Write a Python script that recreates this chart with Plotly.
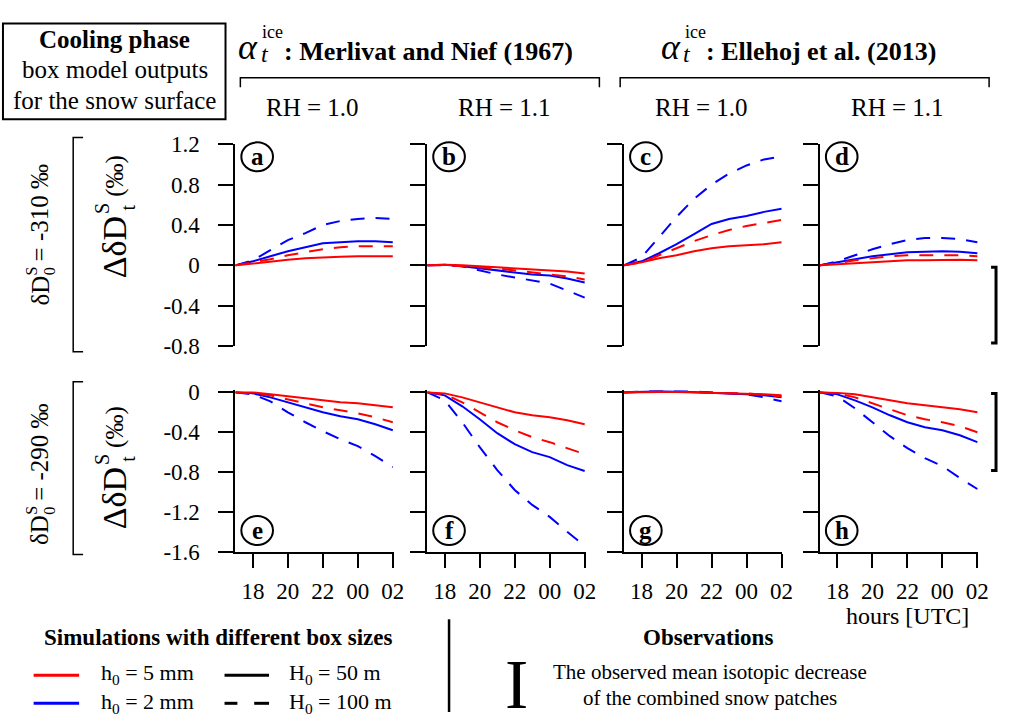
import plotly.graph_objects as go

W, H = 1009, 725
FONT = "Liberation Serif"

# ---------------- data ----------------
hours = [17, 18, 19, 20, 21, 22, 23, 24, 25, 26]
hour_ticks = [18, 20, 22, 24, 26]
hour_labels = ["18", "20", "22", "00", "02"]
top_ticks = [-0.8, -0.4, 0, 0.4, 0.8, 1.2]
top_labels = ["-0.8", "-0.4", "0", "0.4", "0.8", "1.2"]
bot_ticks = [-1.6, -1.2, -0.8, -0.4, 0]
bot_labels = ["-1.6", "-1.2", "-0.8", "-0.4", "0"]

# (a) Merlivat & Nief, RH=1.0, dD0=-310
a_h5_H50 = [0, 0.02, 0.04, 0.055, 0.07, 0.08, 0.085, 0.09, 0.09, 0.09]
a_h5_H100 = [0, 0.03, 0.06, 0.10, 0.13, 0.16, 0.18, 0.19, 0.19, 0.19]
a_h2_H50 = [0, 0.04, 0.09, 0.14, 0.18, 0.22, 0.23, 0.24, 0.24, 0.23]
a_h2_H100 = [0, 0.05, 0.15, 0.25, 0.32, 0.40, 0.44, 0.46, 0.47, 0.46]
# (b) Merlivat & Nief, RH=1.1, dD0=-310
b_h5_H50 = [0, 0.005, 0.0, -0.01, -0.02, -0.03, -0.04, -0.05, -0.06, -0.08]
b_h5_H100 = [0, 0.0, -0.01, -0.02, -0.03, -0.05, -0.07, -0.09, -0.11, -0.14]
b_h2_H50 = [0, 0.005, -0.01, -0.03, -0.05, -0.07, -0.09, -0.10, -0.13, -0.17]
b_h2_H100 = [0, 0.005, -0.01, -0.05, -0.09, -0.12, -0.15, -0.18, -0.25, -0.32]
# (c) Ellehoj, RH=1.0, dD0=-310
c_h5_H50 = [0, 0.03, 0.07, 0.10, 0.14, 0.17, 0.19, 0.20, 0.21, 0.23]
c_h5_H100 = [0, 0.03, 0.10, 0.17, 0.24, 0.30, 0.35, 0.39, 0.42, 0.45]
c_h2_H50 = [0, 0.04, 0.12, 0.21, 0.31, 0.41, 0.46, 0.49, 0.53, 0.56]
c_h2_H100 = [0, 0.08, 0.28, 0.48, 0.66, 0.80, 0.91, 0.99, 1.05, 1.08]
# (d) Ellehoj, RH=1.1, dD0=-310
d_h5_H50 = [0, 0.01, 0.025, 0.035, 0.045, 0.05, 0.05, 0.055, 0.055, 0.05]
d_h5_H100 = [0, 0.02, 0.05, 0.07, 0.09, 0.10, 0.10, 0.10, 0.10, 0.09]
d_h2_H50 = [0, 0.03, 0.06, 0.09, 0.11, 0.13, 0.135, 0.14, 0.135, 0.12]
d_h2_H100 = [0, 0.04, 0.10, 0.16, 0.21, 0.25, 0.27, 0.27, 0.26, 0.23]
# (e) Merlivat & Nief, RH=1.0, dD0=-290
e_h5_H50 = [0, 0.0, -0.02, -0.04, -0.06, -0.08, -0.10, -0.11, -0.13, -0.15]
e_h5_H100 = [0, -0.01, -0.03, -0.07, -0.11, -0.15, -0.18, -0.21, -0.25, -0.30]
e_h2_H50 = [0, -0.01, -0.05, -0.10, -0.15, -0.20, -0.24, -0.27, -0.32, -0.38]
e_h2_H100 = [0, -0.02, -0.09, -0.20, -0.30, -0.39, -0.47, -0.54, -0.64, -0.75]
# (f) Merlivat & Nief, RH=1.1, dD0=-290
f_h5_H50 = [0, -0.01, -0.05, -0.10, -0.15, -0.20, -0.23, -0.25, -0.28, -0.32]
f_h5_H100 = [0, -0.02, -0.10, -0.20, -0.30, -0.38, -0.45, -0.50, -0.56, -0.62]
f_h2_H50 = [0, -0.03, -0.14, -0.27, -0.41, -0.52, -0.60, -0.65, -0.73, -0.79]
f_h2_H100 = [0, -0.08, -0.30, -0.55, -0.78, -0.98, -1.13, -1.25, -1.40, -1.54]
# (g) Ellehoj, RH=1.0, dD0=-290
g_h5_H50 = [0, 0.005, 0.005, 0.005, 0.0, 0.0, -0.005, -0.01, -0.02, -0.03]
g_h5_H100 = [0, 0.005, 0.01, 0.005, 0.0, 0.0, -0.005, -0.01, -0.025, -0.04]
g_h2_H50 = [0, 0.01, 0.015, 0.01, 0.005, 0.0, -0.01, -0.02, -0.03, -0.05]
g_h2_H100 = [0, 0.01, 0.02, 0.02, 0.01, 0.0, -0.01, -0.02, -0.05, -0.09]
# (h) Ellehoj, RH=1.1, dD0=-290
h_h5_H50 = [0, -0.005, -0.02, -0.05, -0.08, -0.11, -0.13, -0.15, -0.17, -0.20]
h_h5_H100 = [0, -0.01, -0.05, -0.11, -0.17, -0.23, -0.27, -0.30, -0.34, -0.40]
h_h2_H50 = [0, -0.02, -0.08, -0.15, -0.23, -0.30, -0.35, -0.38, -0.43, -0.50]
h_h2_H100 = [0, -0.04, -0.16, -0.30, -0.44, -0.56, -0.66, -0.74, -0.86, -0.97]

# observed mean isotopic decrease (bracket extent)
obs_d = [-0.02, -0.77]
obs_h = [-0.01, -0.785]

panel_letters = ["a", "b", "c", "d", "e", "f", "g", "h"]
panels = [
    (a_h5_H50, a_h5_H100, a_h2_H50, a_h2_H100),
    (b_h5_H50, b_h5_H100, b_h2_H50, b_h2_H100),
    (c_h5_H50, c_h5_H100, c_h2_H50, c_h2_H100),
    (d_h5_H50, d_h5_H100, d_h2_H50, d_h2_H100),
    (e_h5_H50, e_h5_H100, e_h2_H50, e_h2_H100),
    (f_h5_H50, f_h5_H100, f_h2_H50, f_h2_H100),
    (g_h5_H50, g_h5_H100, g_h2_H50, g_h2_H100),
    (h_h5_H50, h_h5_H100, h_h2_H50, h_h2_H100),
]

RED = "#FF0000"
BLUE = "#0000FF"
DASH = "14px,11px"


def X(px):
    return px / W


def Y(py):
    return 1 - py / H


col_left = [238, 432, 631, 829]
PW = 160
top_dom = [Y(346), Y(137)]
bot_dom = [Y(559), Y(391.9)]

fig = go.Figure()
layout = dict(
    width=W, height=H, autosize=False,
    margin=dict(l=0, r=0, t=0, b=0),
    paper_bgcolor="white", plot_bgcolor="white",
    showlegend=False,
    font=dict(family=FONT, color="black", size=22),
)

for i, (s50_5, s100_5, s50_2, s100_2) in enumerate(panels):
    row, col = divmod(i, 4)
    n = i + 1
    xa = "x" if n == 1 else f"x{n}"
    ya = "y" if n == 1 else f"y{n}"
    for ys, color, dash in [(s100_2, BLUE, DASH), (s50_2, BLUE, "solid"),
                            (s100_5, RED, DASH), (s50_5, RED, "solid")]:
        fig.add_trace(go.Scatter(x=hours, y=ys, mode="lines", xaxis=xa, yaxis=ya,
                                 line=dict(color=color, width=2, dash=dash),
                                 hoverinfo="skip"))
    xkey = "xaxis" if n == 1 else f"xaxis{n}"
    ykey = "yaxis" if n == 1 else f"yaxis{n}"
    L = col_left[col]
    xd = dict(domain=[X(L), X(L + PW)], range=[17, 26.05], anchor=ya,
              showgrid=False, zeroline=False, fixedrange=True)
    if row == 0:
        xd.update(visible=False)
    else:
        xd.update(showline=True, linecolor="black", linewidth=2,
                  ticks="outside", ticklen=14, tickwidth=2, tickcolor="black",
                  tickvals=hour_ticks, ticktext=hour_labels,
                  tickfont=dict(family=FONT, size=23), ticklabelstandoff=4)
    yd = dict(domain=top_dom if row == 0 else bot_dom,
              range=[-0.8, 1.2] if row == 0 else [-1.6, 0.02],
              anchor=xa, showgrid=False, zeroline=False, fixedrange=True,
              showline=True, linecolor="black", linewidth=2,
              ticks="outside", ticklen=15, tickwidth=2, tickcolor="black",
              tickvals=top_ticks if row == 0 else bot_ticks,
              ticktext=top_labels if row == 0 else bot_labels,
              tickfont=dict(family=FONT, size=23),
              showticklabels=(col == 0), ticklabelstandoff=14)
    layout[xkey] = xd
    layout[ykey] = yd

shapes = []
annotations = []


def line_shape(pts, width=2, color="black", dash="solid"):
    path = "M " + " L ".join(f"{X(px)},{Y(py)}" for px, py in pts)
    shapes.append(dict(type="path", path=path, xref="paper", yref="paper",
                       line=dict(color=color, width=width, dash=dash)))


def text(px, py, t, size=22, bold=False, italic=False, angle=0, xanchor="center"):
    if bold:
        t = f"<b>{t}</b>"
    if italic:
        t = f"<i>{t}</i>"
    annotations.append(dict(x=X(px), y=Y(py), xref="paper", yref="paper",
                            text=t, showarrow=False, textangle=angle,
                            xanchor=xanchor, yanchor="middle",
                            font=dict(family=FONT, size=size, color="black")))


# header box
shapes.append(dict(type="rect", xref="paper", yref="paper",
                   x0=X(3), x1=X(228), y0=Y(111), y1=Y(12),
                   line=dict(color="black", width=2)))
text(116, 28, "Cooling phase", 25, bold=True)
text(116, 60, "box model outputs", 25)
text(116, 92, "for the snow surface", 25)

# alpha headers
for ax0, label in [(240, ": Merlivat and Nief (1967)"), (667, ": Ellehoj et al. (2013)")]:
    text(ax0 + 11, 36, "α", 36, italic=True)
    text(ax0 + 28, 44, "t", 24, italic=True)
    text(ax0 + 36, 21, "ice", 18)
    text(ax0 + 45, 41, label, 26, bold=True, xanchor="left")

# header brackets
line_shape([(243, 78), (243, 68), (606, 68), (606, 78)], width=1.5)
line_shape([(627, 78), (627, 68), (1000, 68), (1000, 78)], width=1.5)
for L, rh in zip(col_left, ["RH = 1.0", "RH = 1.1", "RH = 1.0", "RH = 1.1"]):
    text(L + 78, 99, rh, 25)

# left brackets
line_shape([(84, 130), (74, 130), (74, 352), (84, 352)], width=1.5)
line_shape([(84, 383), (74, 383), (74, 562), (84, 562)], width=1.5)

# outer labels (rotated)
for dy, val in [(0, "-310"), (248, "-290")]:
    text(40, 289 + dy, "δD", 25, angle=-90)
    text(32, 268 + dy, "S", 16, angle=-90)
    text(50, 268 + dy, "0", 16, angle=-90)
    text(40, 208 + dy, f"= {val} ‰", 25, angle=-90)

# y-axis titles (rotated)
for dy in [0, 260]:
    text(116, 244 + dy, "ΔδD", 34, angle=-90)
    text(103, 203 + dy, "S", 20, angle=-90)
    text(129, 203 + dy, "t", 20, angle=-90)
    text(116, 170 + dy, "(‰)", 25, angle=-90)

# panel letters in circles
for i, letter in enumerate(panel_letters):
    row, col = divmod(i, 4)
    cx = col_left[col] + 22
    cy = 150 if row == 0 else 537
    shapes.append(dict(type="circle", xref="paper", yref="paper",
                       x0=X(cx - 16), x1=X(cx + 16), y0=Y(cy + 15), y1=Y(cy - 15),
                       line=dict(color="black", width=2)))
    text(cx, cy, letter, 25, bold=True)

# observation brackets (right of panels d and h)
for yref, (o_top, o_bot) in [("y4", obs_d), ("y8", obs_h)]:
    xa, xb = X(1002), X(1007)
    shapes.append(dict(type="path", xref="paper", yref=yref,
                       path=f"M {xa},{o_top} L {xb},{o_top} L {xb},{o_bot} L {xa},{o_bot}",
                       line=dict(color="black", width=3)))

# x-axis label
text(917, 626, "hours [UTC]", 24)

# legend section
text(220, 648, "Simulations with different box sizes", 23, bold=True)
line_shape([(34, 687), (80, 687)], width=3, color=RED)
line_shape([(34, 716), (80, 716)], width=3, color=BLUE)
line_shape([(227, 687), (272, 687)], width=3)
line_shape([(227, 716), (240, 716)], width=3)
line_shape([(257, 716), (272, 716)], width=3)
text(100, 686, "h<sub>0</sub> = 5 mm", 22, xanchor="left")
text(100, 716, "h<sub>0</sub> = 2 mm", 22, xanchor="left")
text(290, 686, "H<sub>0</sub> = 50 m", 22, xanchor="left")
text(290, 716, "H<sub>0</sub> = 100 m", 22, xanchor="left")

# divider
line_shape([(454, 629), (454, 725)], width=2.5)

# observations legend
text(716, 648, "Observations", 23, bold=True)
text(522, 697, "I", 70)
text(718, 684, "The observed mean isotopic decrease", 21)
text(718, 710, "of the combined snow patches", 21)

layout["shapes"] = shapes
layout["annotations"] = annotations
fig.update_layout(**layout)
fig.write_html("out.html")
